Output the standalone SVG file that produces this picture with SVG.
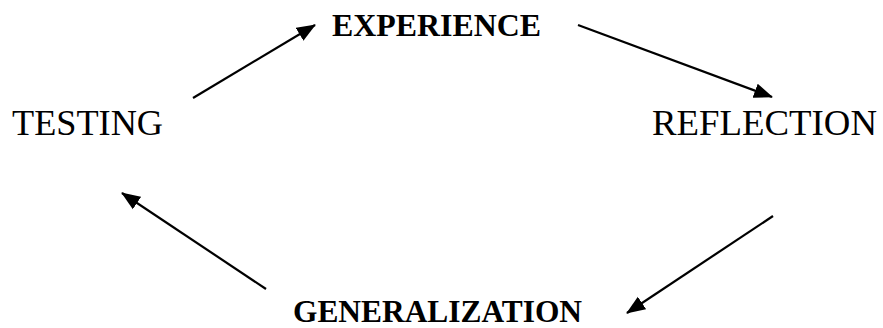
<svg xmlns="http://www.w3.org/2000/svg" width="883" height="328" viewBox="0 0 883 328">
<style>
.lbl{font-family:"Liberation Serif","Times New Roman",serif;fill:#000}
.b{font-weight:bold}
.arr{stroke:#000;stroke-width:2.2;fill:none;marker-end:url(#ah)}
</style>
<defs>
<marker id="ah" markerUnits="userSpaceOnUse" markerWidth="20" markerHeight="16" refX="18" refY="7.5" orient="auto" viewBox="0 0 20 15">
<path d="M0,0 L19,7.5 L0,15 z" fill="#000"/>
</marker>
</defs>
<rect width="883" height="328" fill="#fff"/>
<g id="experience"><text class="lbl b" x="332" y="36" font-size="32" textLength="209" lengthAdjust="spacingAndGlyphs">EXPERIENCE</text></g>
<g id="reflection"><text class="lbl" x="652" y="135" font-size="36" textLength="225" lengthAdjust="spacingAndGlyphs">REFLECTION</text></g>
<g id="generalization"><text class="lbl b" x="293" y="322" font-size="32" textLength="289" lengthAdjust="spacingAndGlyphs">GENERALIZATION</text></g>
<g id="testing"><text class="lbl" x="12" y="135" font-size="36" textLength="151" lengthAdjust="spacingAndGlyphs">TESTING</text></g>
<g id="connectors">
<line class="arr" x1="193" y1="98" x2="315" y2="25"/>
<line class="arr" x1="578" y1="25" x2="772" y2="97"/>
<line class="arr" x1="773" y1="216" x2="627" y2="313"/>
<line class="arr" x1="266" y1="289" x2="122" y2="193"/>
</g>
</svg>
